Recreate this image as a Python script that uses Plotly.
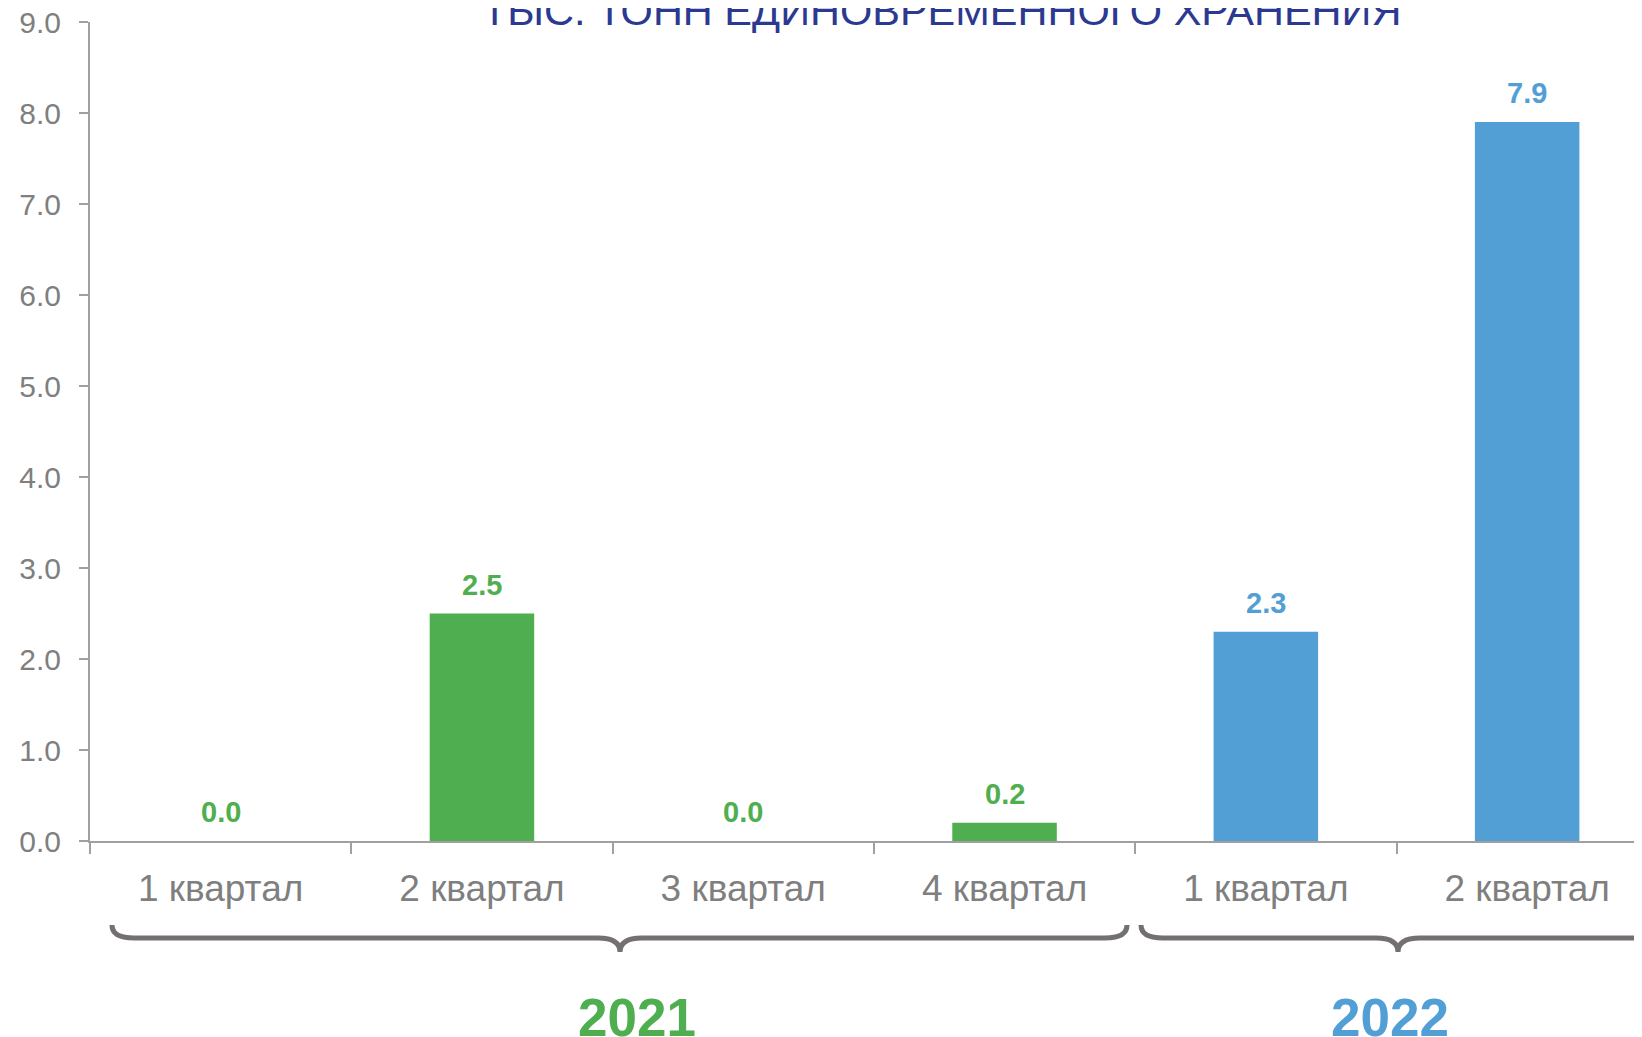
import plotly.graph_objects as go

# ---- data ----
categories = ["1 квартал", "2 квартал", "3 квартал", "4 квартал", "1 квартал", "2 квартал"]
values = [0.0, 2.5, 0.0, 0.2, 2.3, 7.9]
years = ["2021", "2021", "2021", "2021", "2022", "2022"]
year_labels = ["2021", "2022"]
title_text = "ТЫС. ТОНН ЕДИНОВРЕМЕННОГО ХРАНЕНИЯ"
y_ticks = [0, 1, 2, 3, 4, 5, 6, 7, 8, 9]

GREEN = "#4FAE4F"
BLUE = "#529FD6"
GRAY_TXT = "#7F7F7F"
AXIS = "#A0A0A0"
BRACE = "#757070"
TITLE_C = "#2B3990"
FONT = "Liberation Sans, Arial, sans-serif"

OFF = 8  # page offset of the figure inside the window
W, H = 1642, 1037
L = 90 - OFF          # plot left (figure px)
T = 22 - OFF          # plot top
AXIS_Y = 841 - OFF    # plot bottom
B = H - AXIS_Y
plot_w = W - L
plot_h = AXIS_Y - T
CAT_PX = 261.3

# helpers take window (screen) pixel coordinates
def X(px):
    return (px - OFF - L) / plot_w

def Y(py):
    return (AXIS_Y - (py - OFF)) / plot_h

xs = list(range(len(categories)))
colors = [GREEN if y == "2021" else BLUE for y in years]

fig = go.Figure()
fig.add_trace(go.Bar(
    x=xs, y=values, width=0.4, marker=dict(color=colors, line=dict(width=0)),
    hoverinfo="skip", showlegend=False,
))

annotations = []
for x, v, c in zip(xs, values, colors):
    annotations.append(dict(
        x=x, y=v, xref="x", yref="y", text=f"{v:.1f}", showarrow=False,
        yanchor="bottom", yshift=11,
        font=dict(family=FONT, size=29, color=c, weight="bold"),
    ))

# title (partly cut off at top)
annotations.append(dict(
    x=X(942), y=Y(10), xref="paper", yref="paper", text=title_text, showarrow=False,
    xanchor="center", yanchor="middle",
    font=dict(family=FONT, size=41.5, color=TITLE_C),
))

# year labels
year_centers = [637, 1390]
year_colors = [GREEN, BLUE]
for lab, cx, col in zip(year_labels, year_centers, year_colors):
    annotations.append(dict(
        x=X(cx), y=Y(1017), xref="paper", yref="paper", text=lab, showarrow=False,
        xanchor="center", yanchor="middle",
        font=dict(family=FONT, size=53, color=col, weight="bold"),
    ))

def brace(x0, x1, xc, ytop=925, yline=938, ycusp=952, rx=22, cw=22):
    p = []
    p.append(f"M {X(x0)},{Y(ytop)}")
    p.append(f"Q {X(x0)},{Y(yline)} {X(x0 + rx)},{Y(yline)}")
    p.append(f"L {X(xc - cw)},{Y(yline)}")
    p.append(f"Q {X(xc)},{Y(yline)} {X(xc)},{Y(ycusp)}")
    p.append(f"Q {X(xc)},{Y(yline)} {X(xc + cw)},{Y(yline)}")
    p.append(f"L {X(x1 - rx)},{Y(yline)}")
    p.append(f"Q {X(x1)},{Y(yline)} {X(x1)},{Y(ytop)}")
    return " ".join(p)

shapes = []
for (x0, x1, xc) in [(112, 1127, 620), (1141, 1655, 1398)]:
    shapes.append(dict(type="path", xref="paper", yref="paper", path=brace(x0, x1, xc),
                       line=dict(color=BRACE, width=5), layer="above"))

fig.update_layout(
    width=W, height=H,
    margin=dict(l=L, r=0, t=T, b=B, pad=0, autoexpand=False),
    paper_bgcolor="white", plot_bgcolor="white",
    annotations=annotations,
    shapes=shapes,
    xaxis=dict(
        range=[-0.5, -0.5 + plot_w / CAT_PX],
        tickvals=xs, ticktext=categories,
        ticks="", showgrid=False, zeroline=False,
        showline=True, linecolor=AXIS, linewidth=2,
        tickfont=dict(family=FONT, size=37, color=GRAY_TXT),
        ticklabelstandoff=14,
        ticklabeloverflow="allow",
        automargin=False,
        minor=dict(tickvals=[i - 0.5 for i in xs], ticks="outside", ticklen=11,
                   tickcolor=AXIS, tickwidth=1.5, showgrid=False),
        fixedrange=True,
    ),
    yaxis=dict(
        range=[0, 9], tickvals=y_ticks, ticktext=[f"{t:.1f}" for t in y_ticks],
        ticks="outside", ticklen=9, tickcolor=AXIS, tickwidth=1.5,
        showgrid=False, zeroline=False,
        showline=True, linecolor=AXIS, linewidth=2,
        tickfont=dict(family=FONT, size=30, color=GRAY_TXT),
        ticklabelstandoff=12,
        ticklabeloverflow="allow",
        automargin=False,
        fixedrange=True,
    ),
)

fig.write_html("out.html", config={"displayModeBar": False})
